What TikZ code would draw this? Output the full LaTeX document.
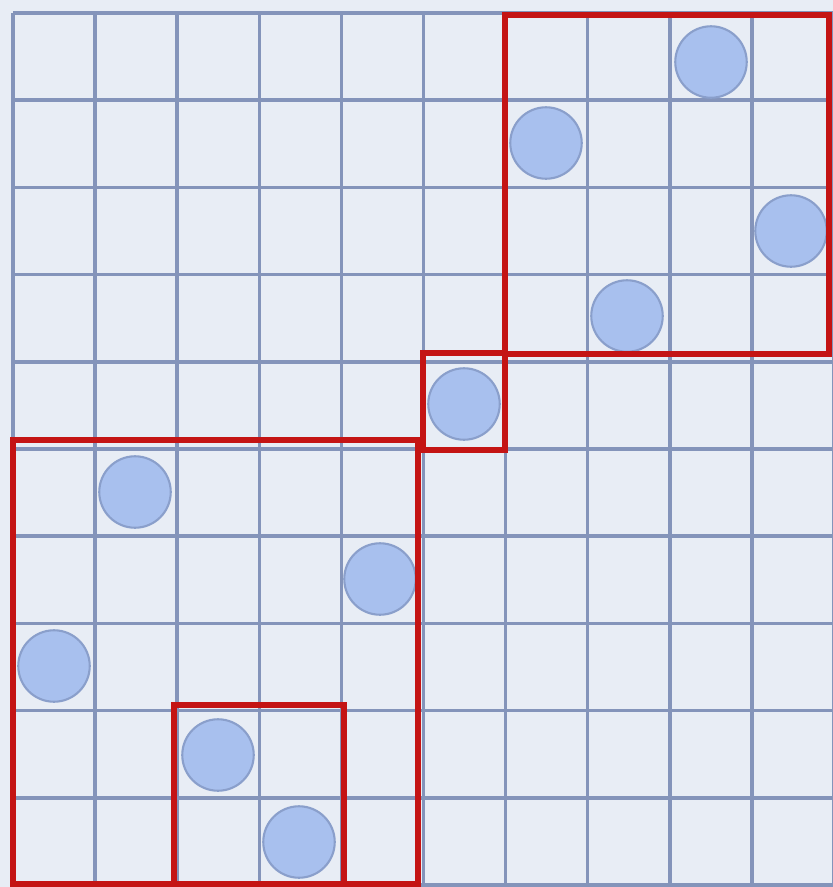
\documentclass[tikz,border=0pt]{standalone}
\definecolor{paper}{HTML}{E8EDF5}
\definecolor{gridc}{HTML}{8494BA}
\definecolor{dotfill}{HTML}{A8C0EE}
\definecolor{dotline}{HTML}{8A9FCB}
\definecolor{boxred}{HTML}{C41414}
\tikzset{
  gridline/.style={draw=gridc, line width=3pt},
  dot/.style={circle, fill=dotfill, draw=dotline, line width=1.8pt, minimum size=61pt, inner sep=0pt},
  redbox/.style={draw=boxred, line width=5pt}
}
\begin{document}
\begin{tikzpicture}[x=0.03cm, y=-0.03cm]
\fill[paper] (0,0) rectangle (833,887);
\useasboundingbox (0,0) rectangle (833,887);
% grid
\foreach \i in {0,...,10} {
  \draw[gridline] ({13+82.1*\i},13) -- ({13+82.1*\i},885);
  \draw[gridline] (13,{13+87.2*\i}) -- (834,{13+87.2*\i});
}
% dots
\node[dot] (d0) at (711,62) {};
\node[dot] (d1) at (546,143) {};
\node[dot] (d2) at (791,231) {};
\node[dot] (d3) at (627,316) {};
\node[dot] (d4) at (464,404) {};
\node[dot] (d5) at (135,492) {};
\node[dot] (d6) at (380,579) {};
\node[dot] (d7) at (54,666) {};
\node[dot] (d8) at (218,755) {};
\node[dot] (d9) at (299,842) {};
% red boxes
\draw[redbox] (505,15) rectangle (829,354);
\draw[redbox] (423,353) rectangle (505,450);
\draw[redbox] (13,440) rectangle (418,884);
\draw[redbox] (174,705) rectangle (344,884);
\end{tikzpicture}
\end{document}
